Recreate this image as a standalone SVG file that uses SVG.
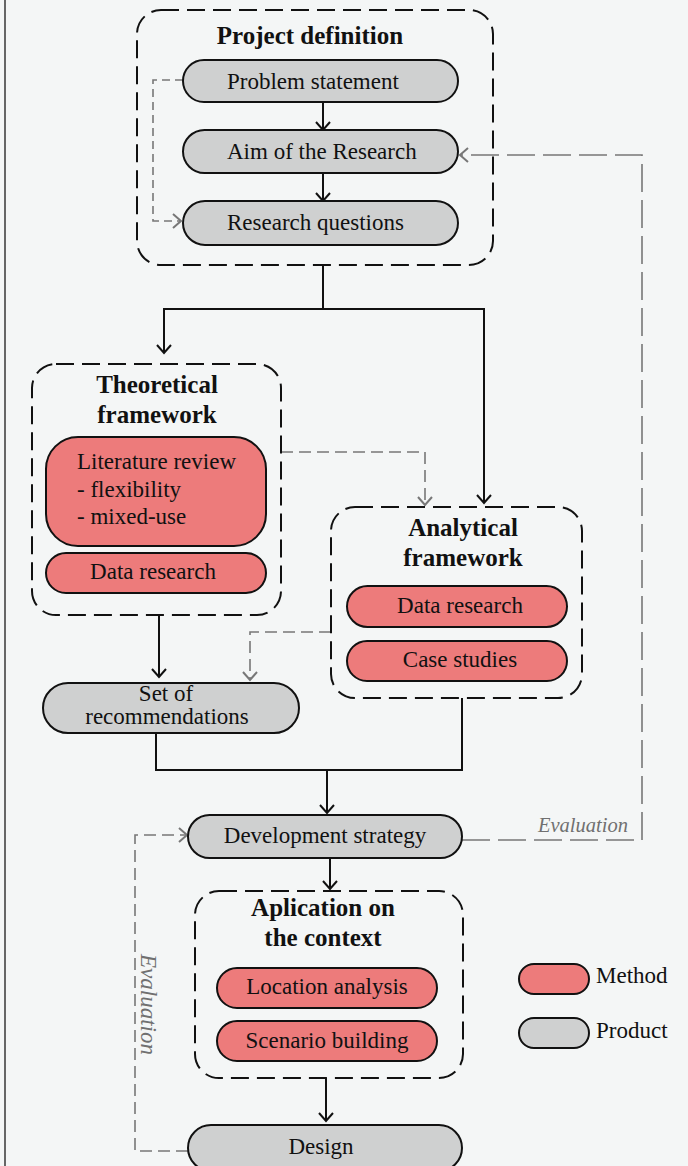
<svg xmlns="http://www.w3.org/2000/svg" width="688" height="1166" viewBox="0 0 688 1166">
<style>
.t{font-family:"Liberation Serif","Times New Roman",serif;fill:#111;font-size:23px}
.b{font-family:"Liberation Serif","Times New Roman",serif;fill:#111;font-size:25px;font-weight:bold}
.ev{font-family:"Liberation Serif","Times New Roman",serif;fill:#707070;font-style:italic}
.box{fill:none;stroke:#111;stroke-width:2;stroke-dasharray:18 8}
.m{fill:#ED7B7B;stroke:#111;stroke-width:2}
.p{fill:#CFD0D0;stroke:#111;stroke-width:2}
.k{fill:none;stroke:#111;stroke-width:2}
.g{fill:none;stroke:#777;stroke-width:1.6}
</style>
<defs>
<marker id="ak" viewBox="-10 -10 20 20" markerWidth="20" markerHeight="20" refX="0" refY="0" orient="auto" markerUnits="userSpaceOnUse">
<path d="M-8,-7 L0,0 L-8,7" fill="none" stroke="#111" stroke-width="2"/>
</marker>
<marker id="ag" viewBox="-10 -10 20 20" markerWidth="20" markerHeight="20" refX="0" refY="0" orient="auto" markerUnits="userSpaceOnUse">
<path d="M-8,-7 L0,0 L-8,7" fill="none" stroke="#777" stroke-width="2"/>
</marker>
</defs>
<rect x="0" y="0" width="688" height="1166" fill="#F4F6F6"/>
<line x1="5" y1="0" x2="5" y2="1166" stroke="#666" stroke-width="2"/>

<g id="connectors">
<path class="k" d="M323,265 V309 H164 V353" marker-end="url(#ak)"/>
<path class="k" d="M323,309 H484 V503" marker-end="url(#ak)"/>
<path class="k" d="M323,102 V130" marker-end="url(#ak)"/>
<path class="k" d="M323,173 V201" marker-end="url(#ak)"/>
<path class="k" d="M159,615 V677" marker-end="url(#ak)"/>
<path class="k" d="M156,733 V770 H462 V698"/>
<path class="k" d="M327,770 V813" marker-end="url(#ak)"/>
<path class="k" d="M330,858 V889" marker-end="url(#ak)"/>
<path class="k" d="M326,1078 V1121" marker-end="url(#ak)"/>
<path class="g" stroke-dasharray="8 5" d="M183,80 H153 V221 H181" marker-end="url(#ag)"/>
<path class="g" stroke-dasharray="12 6" d="M281,452 H425 V505" marker-end="url(#ag)"/>
<path class="g" stroke-dasharray="12 6" d="M331,632 H250 V680" marker-end="url(#ag)"/>
<path class="g" stroke-dasharray="28 8" d="M462,840 H642 V155 H460" marker-end="url(#ag)"/>
<path class="g" stroke-dasharray="12 6" d="M188,1151 H135 V835 H187" marker-end="url(#ag)"/>
<text class="ev" x="538" y="832" font-size="20.5">Evaluation</text>
<text class="ev" x="141" y="954" font-size="23" transform="rotate(90 141 954)">Evaluation</text>
</g>

<g id="project-definition">
<rect class="box" x="137" y="10" width="356" height="255" rx="24"/>
<text class="b" x="310" y="44" text-anchor="middle" font-size="25.5">Project definition</text>
</g>
<g id="problem-statement">
<rect class="p" x="183" y="60" width="275" height="42" rx="21"/>
<text class="t" x="227" y="89">Problem statement</text>
</g>
<g id="aim">
<rect class="p" x="183" y="130" width="275" height="43" rx="21.5"/>
<text class="t" x="227" y="159">Aim of the Research</text>
</g>
<g id="research-questions">
<rect class="p" x="183" y="201" width="275" height="44" rx="22"/>
<text class="t" x="227" y="230">Research questions</text>
</g>

<g id="theoretical-framework">
<rect class="box" x="32" y="364" width="249" height="251" rx="24"/>
<text class="b" x="157" y="393" text-anchor="middle">Theoretical</text>
<text class="b" x="157" y="423" text-anchor="middle">framework</text>
</g>
<g id="literature-review">
<rect class="m" x="46" y="437" width="220" height="109" rx="32"/>
<text class="t" x="77" y="469">Literature review</text>
<text class="t" x="77" y="497">- flexibility</text>
<text class="t" x="77" y="524">- mixed-use</text>
</g>
<g id="data-research-1">
<rect class="m" x="46" y="553" width="220" height="40" rx="20"/>
<text class="t" x="153" y="579" text-anchor="middle">Data research</text>
</g>

<g id="analytical-framework">
<rect class="box" x="331" y="507" width="251" height="191" rx="24"/>
<text class="b" x="463" y="536" text-anchor="middle">Analytical</text>
<text class="b" x="463" y="566" text-anchor="middle">framework</text>
</g>
<g id="data-research-2">
<rect class="m" x="347" y="586" width="220" height="41" rx="20.5"/>
<text class="t" x="460" y="613" text-anchor="middle">Data research</text>
</g>
<g id="case-studies">
<rect class="m" x="347" y="641" width="220" height="40" rx="20"/>
<text class="t" x="460" y="667" text-anchor="middle">Case studies</text>
</g>

<g id="set-of-recommendations">
<rect class="p" x="43" y="683" width="256" height="50" rx="25"/>
<text class="t" x="166" y="701" text-anchor="middle" font-size="22">Set of</text>
<text class="t" x="167" y="724" text-anchor="middle" font-size="22">recommendations</text>
</g>

<g id="development-strategy">
<rect class="p" x="188" y="815" width="274" height="43" rx="21.5"/>
<text class="t" x="325" y="843" text-anchor="middle">Development strategy</text>
</g>

<g id="application-context">
<rect class="box" x="195" y="891" width="268" height="187" rx="24"/>
<text class="b" x="323" y="916" text-anchor="middle">Aplication on</text>
<text class="b" x="323" y="946" text-anchor="middle">the context</text>
</g>
<g id="location-analysis">
<rect class="m" x="217" y="968" width="220" height="40" rx="20"/>
<text class="t" x="327" y="994" text-anchor="middle">Location analysis</text>
</g>
<g id="scenario-building">
<rect class="m" x="217" y="1021" width="220" height="40" rx="20"/>
<text class="t" x="327" y="1048" text-anchor="middle">Scenario building</text>
</g>

<g id="design">
<rect class="p" x="188" y="1125" width="274" height="46" rx="23"/>
<text class="t" x="321" y="1154" text-anchor="middle">Design</text>
</g>

<g id="legend-method">
<rect class="m" x="519" y="964" width="70" height="30" rx="15"/>
<text class="t" x="596" y="983">Method</text>
</g>
<g id="legend-product">
<rect class="p" x="519" y="1018" width="70" height="30" rx="15"/>
<text class="t" x="596" y="1038">Product</text>
</g>
</svg>
